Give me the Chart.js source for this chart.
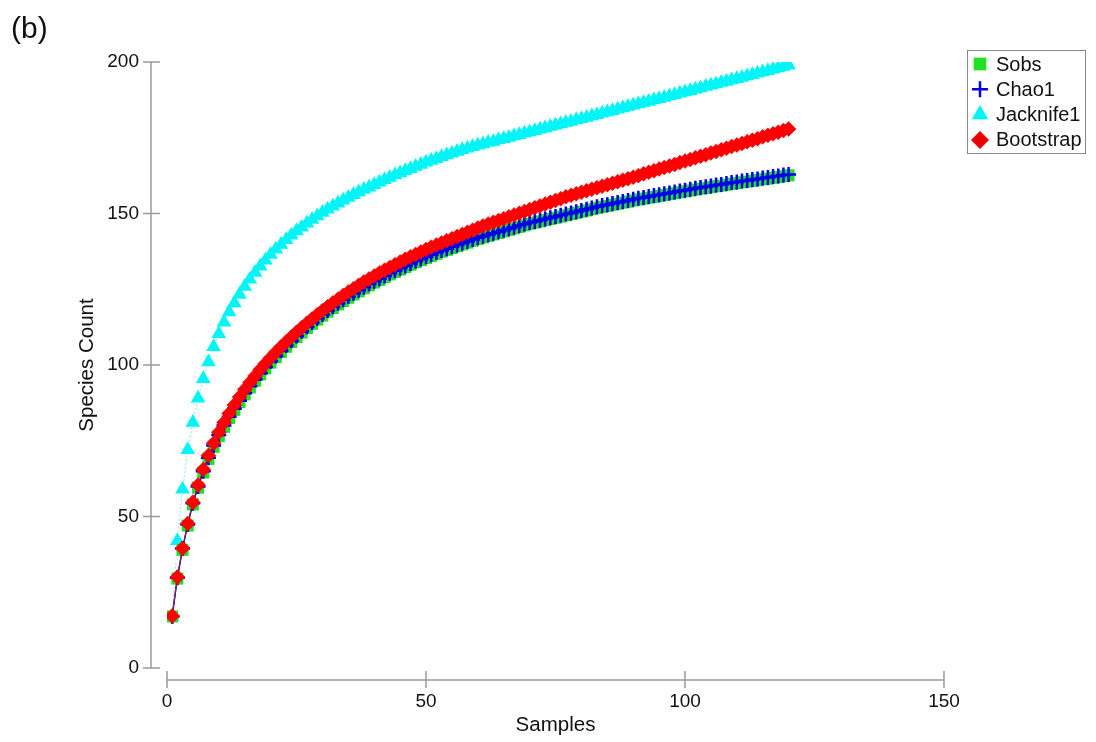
<!DOCTYPE html>
<html>
<head>
<meta charset="utf-8">
<script src="https://cdn.jsdelivr.net/npm/chart.js@4.4.1/dist/chart.umd.min.js"></script>
<style>
  body { margin: 0; background: #fff; }
  canvas { display: block; }
</style>
</head>
<body>
<canvas id="rarefaction" width="1096" height="742"></canvas>
<script>
// Sample index (x axis)
const samples = Array.from({ length: 120 }, (_, i) => i + 1);

const xTicks = [0, 50, 100, 150];
const yTicks = [0, 50, 100, 150, 200];

// Species richness estimates per sample count
const sobs = [
  17.0, 29.5, 39.0, 47.0, 54.0, 59.5, 64.5, 69.0, 73.0, 76.5,
  79.6, 82.5, 85.2, 87.8, 90.3, 92.6, 94.8, 96.9, 98.9, 100.8,
  102.6, 104.3, 106.0, 107.6, 109.2, 110.7, 112.2, 113.6, 115.0, 116.3,
  117.6, 118.8, 120.0, 121.1, 122.2, 123.3, 124.3, 125.3, 126.3, 127.2,
  128.1, 129.0, 129.9, 130.7, 131.5, 132.3, 133.1, 133.9, 134.6, 135.3,
  136.0, 136.7, 137.4, 138.0, 138.6, 139.2, 139.8, 140.4, 141.0, 141.6,
  142.1, 142.6, 143.1, 143.6, 144.1, 144.6, 145.1, 145.6, 146.1, 146.6,
  147.0, 147.4, 147.8, 148.2, 148.6, 149.0, 149.4, 149.8, 150.2, 150.6,
  151.0, 151.4, 151.8, 152.2, 152.5, 152.9, 153.2, 153.6, 153.9, 154.3,
  154.6, 154.9, 155.2, 155.5, 155.8, 156.1, 156.4, 156.7, 157.0, 157.3,
  157.6, 157.9, 158.2, 158.4, 158.7, 159.0, 159.2, 159.5, 159.8, 160.0,
  160.3, 160.5, 160.8, 161.0, 161.3, 161.5, 161.8, 162.0, 162.3, 162.6
];

const chao1 = [
  17.0, 29.8, 39.4, 47.4, 54.4, 59.9, 64.9, 69.4, 73.4, 76.9,
  80.0, 82.9, 85.6, 88.2, 90.7, 93.0, 95.2, 97.3, 99.3, 101.2,
  103.0, 104.7, 106.4, 108.0, 109.6, 111.1, 112.6, 114.0, 115.4, 116.7,
  118.0, 119.2, 120.4, 121.5, 122.6, 123.7, 124.7, 125.7, 126.7, 127.6,
  128.5, 129.4, 130.3, 131.1, 131.9, 132.7, 133.5, 134.3, 135.0, 135.7,
  136.4, 137.1, 137.8, 138.4, 139.0, 139.6, 140.2, 140.8, 141.4, 142.0,
  142.5, 143.0, 143.5, 144.0, 144.5, 145.0, 145.5, 146.0, 146.5, 147.0,
  147.4, 147.8, 148.2, 148.6, 149.0, 149.4, 149.8, 150.2, 150.6, 151.0,
  151.4, 151.8, 152.2, 152.6, 152.9, 153.3, 153.6, 154.0, 154.3, 154.7,
  155.0, 155.3, 155.6, 155.9, 156.2, 156.5, 156.8, 157.1, 157.4, 157.7,
  158.0, 158.3, 158.6, 158.8, 159.1, 159.4, 159.6, 159.9, 160.2, 160.4,
  160.7, 160.9, 161.2, 161.4, 161.7, 161.9, 162.2, 162.4, 162.7, 162.9
];

const jacknife1 = [
  17.0, 42.0, 59.0, 72.0, 81.0, 89.0, 95.5, 101.0, 106.0, 110.3,
  114.1, 117.5, 120.5, 123.3, 125.9, 128.3, 130.5, 132.6, 134.6, 136.5,
  138.2, 139.8, 141.3, 142.8, 144.2, 145.5, 146.8, 148.0, 149.2, 150.3,
  151.4, 152.4, 153.4, 154.4, 155.3, 156.2, 157.1, 157.9, 158.7, 159.5,
  160.3, 161.1, 161.9, 162.7, 163.4, 164.1, 164.8, 165.5, 166.2, 166.9,
  167.5, 168.1, 168.7, 169.3, 169.9, 170.5, 171.0, 171.5, 172.0, 172.5,
  172.9, 173.4, 173.8, 174.3, 174.7, 175.1, 175.6, 176.0, 176.5, 176.9,
  177.3, 177.8, 178.2, 178.7, 179.1, 179.5, 180.0, 180.4, 180.9, 181.3,
  181.7, 182.2, 182.6, 183.1, 183.5, 183.9, 184.4, 184.8, 185.3, 185.7,
  186.1, 186.6, 187.0, 187.5, 187.9, 188.3, 188.8, 189.2, 189.7, 190.1,
  190.5, 191.0, 191.4, 191.9, 192.3, 192.7, 193.2, 193.6, 194.1, 194.5,
  194.9, 195.4, 195.8, 196.3, 196.7, 197.1, 197.6, 198.0, 198.5, 198.9
];

const bootstrap = [
  17.2, 30.0, 39.5, 47.7, 54.7, 60.4, 65.5, 70.1, 74.2, 77.8,
  81.0, 84.0, 86.8, 89.4, 91.9, 94.2, 96.4, 98.5, 100.5, 102.4,
  104.2, 105.9, 107.6, 109.2, 110.8, 112.3, 113.8, 115.2, 116.6, 117.9,
  119.2, 120.5, 121.7, 122.9, 124.1, 125.2, 126.3, 127.4, 128.4, 129.4,
  130.4, 131.3, 132.2, 133.1, 134.0, 134.9, 135.7, 136.5, 137.3, 138.1,
  138.9, 139.6, 140.3, 141.0, 141.7, 142.4, 143.1, 143.8, 144.5, 145.2,
  145.9, 146.5, 147.1, 147.7, 148.3, 148.9, 149.5, 150.1, 150.7, 151.3,
  151.9, 152.5, 153.1, 153.7, 154.3, 154.9, 155.5, 156.0, 156.5, 157.0,
  157.5, 158.0, 158.5, 159.0, 159.5, 160.0, 160.5, 161.0, 161.5, 162.0,
  162.5, 163.1, 163.6, 164.1, 164.7, 165.2, 165.7, 166.2, 166.8, 167.3,
  167.8, 168.4, 168.9, 169.4, 170.0, 170.5, 171.0, 171.5, 172.1, 172.6,
  173.1, 173.7, 174.2, 174.7, 175.3, 175.8, 176.3, 176.8, 177.4, 177.9
];

const FONT = 'Arial, "Liberation Sans", sans-serif';
const AXIS_GRAY = '#9a9a9a';
const TEXT = '#111';

function toPoints(values) {
  return samples.map((s, i) => ({ x: s, y: values[i] }));
}

// Axis lines are drawn detached from the plot area, with ticks crossing them
const detachedAxes = {
  id: 'detachedAxes',
  beforeDatasetsDraw(chart) {
    const { ctx, scales: { x, y } } = chart;
    const axisX = chart.chartArea.left - 16;
    const axisY = chart.chartArea.bottom + 12;
    ctx.save();
    ctx.strokeStyle = AXIS_GRAY;
    ctx.lineWidth = 1.5;
    ctx.beginPath();
    ctx.moveTo(axisX, y.getPixelForValue(yTicks[yTicks.length - 1]));
    ctx.lineTo(axisX, y.getPixelForValue(yTicks[0]));
    yTicks.forEach(v => {
      const py = y.getPixelForValue(v);
      ctx.moveTo(axisX - 8, py);
      ctx.lineTo(axisX + 9, py);
    });
    ctx.moveTo(x.getPixelForValue(xTicks[0]), axisY);
    ctx.lineTo(x.getPixelForValue(xTicks[xTicks.length - 1]), axisY);
    xTicks.forEach(v => {
      const px = x.getPixelForValue(v);
      ctx.moveTo(px, axisY - 9);
      ctx.lineTo(px, axisY + 8);
    });
    ctx.stroke();
    ctx.restore();
  }
};

function drawMarker(ctx, style, color, cx, cy, r) {
  ctx.beginPath();
  if (style === 'rect') {
    const h = r * Math.SQRT1_2;
    ctx.rect(cx - h, cy - h, 2 * h, 2 * h);
    ctx.fillStyle = color;
    ctx.fill();
  } else if (style === 'cross') {
    ctx.moveTo(cx - r, cy);
    ctx.lineTo(cx + r, cy);
    ctx.moveTo(cx, cy - r);
    ctx.lineTo(cx, cy + r);
    ctx.strokeStyle = color;
    ctx.lineWidth = 2.5;
    ctx.stroke();
  } else if (style === 'triangle') {
    ctx.moveTo(cx, cy - r);
    ctx.lineTo(cx + r * 0.866, cy + r * 0.5);
    ctx.lineTo(cx - r * 0.866, cy + r * 0.5);
    ctx.closePath();
    ctx.fillStyle = color;
    ctx.fill();
  } else {
    ctx.moveTo(cx - r, cy);
    ctx.lineTo(cx, cy - r);
    ctx.lineTo(cx + r, cy);
    ctx.lineTo(cx, cy + r);
    ctx.closePath();
    ctx.fillStyle = color;
    ctx.fill();
  }
}

// Boxed legend in the upper right corner plus the panel letter
const boxLegend = {
  id: 'boxLegend',
  afterDraw(chart) {
    const ctx = chart.ctx;
    ctx.save();
    ctx.fillStyle = TEXT;
    ctx.font = '30px ' + FONT;
    ctx.textBaseline = 'middle';
    ctx.fillText('(b)', 11, 30);

    ctx.strokeStyle = '#888';
    ctx.lineWidth = 1;
    ctx.strokeRect(967.5, 50.5, 118, 103);

    ctx.font = '20px ' + FONT;
    chart.data.datasets.forEach((ds, i) => {
      const cy = 64 + i * 25.3;
      drawMarker(ctx, ds.pointStyle, ds.legendColor, 980, cy, ds.legendRadius);
      ctx.fillStyle = TEXT;
      ctx.textBaseline = 'middle';
      ctx.textAlign = 'left';
      ctx.fillText(ds.label, 996, cy + 1);
    });
    ctx.restore();
  }
};

const ctx = document.getElementById('rarefaction').getContext('2d');

new Chart(ctx, {
  type: 'line',
  data: {
    datasets: [
      {
        label: 'Sobs',
        data: toPoints(sobs),
        order: 3,
        borderColor: '#22dd22',
        borderWidth: 1,
        pointStyle: 'rect',
        pointRadius: 8.5,
        pointBackgroundColor: '#22e022',
        pointBorderColor: '#22e022',
        pointBorderWidth: 0,
        legendColor: '#22e022',
        legendRadius: 9
      },
      {
        label: 'Chao1',
        data: toPoints(chao1),
        order: 2,
        borderColor: '#0000ee',
        borderWidth: 1.5,
        pointStyle: 'cross',
        pointRadius: 7.5,
        pointBorderColor: '#0000ee',
        pointBorderWidth: 2.5,
        legendColor: '#0000ee',
        legendRadius: 8
      },
      {
        label: 'Jacknife1',
        data: toPoints(jacknife1),
        order: 4,
        borderColor: '#7fecf4',
        borderWidth: 1,
        borderDash: [2, 2],
        pointStyle: 'triangle',
        pointRadius: 8.5,
        pointBackgroundColor: '#00f6f6',
        pointBorderColor: '#00f6f6',
        pointBorderWidth: 0,
        legendColor: '#00f6f6',
        legendRadius: 9.5
      },
      {
        label: 'Bootstrap',
        data: toPoints(bootstrap),
        order: 1,
        borderColor: '#b02020',
        borderWidth: 1,
        pointStyle: 'rectRot',
        pointRadius: 7.5,
        pointBackgroundColor: '#ff0000',
        pointBorderColor: '#ee0000',
        pointBorderWidth: 0.5,
        legendColor: '#ee0000',
        legendRadius: 9
      }
    ]
  },
  options: {
    responsive: false,
    animation: false,
    layout: { padding: { top: 62, right: 152, left: 0, bottom: 0 } },
    plugins: {
      legend: { display: false },
      tooltip: { enabled: false }
    },
    scales: {
      x: {
        type: 'linear',
        min: 0,
        max: 150,
        grid: { display: false, drawTicks: false },
        border: { display: false },
        afterBuildTicks: scale => { scale.ticks = xTicks.map(v => ({ value: v })); },
        afterFit: scale => { scale.height = 74; },
        ticks: {
          padding: 22,
          color: TEXT,
          font: { family: FONT, size: 19 },
          maxRotation: 0
        },
        title: {
          display: true,
          text: 'Samples',
          color: TEXT,
          font: { family: FONT, size: 20.5 },
          padding: { top: 0, bottom: 4 }
        }
      },
      y: {
        type: 'linear',
        min: 0,
        max: 200,
        grid: { display: false, drawTicks: false },
        border: { display: false },
        afterBuildTicks: scale => { scale.ticks = yTicks.map(v => ({ value: v })); },
        afterFit: scale => { scale.width = 167; },
        ticks: {
          padding: 28,
          color: TEXT,
          font: { family: FONT, size: 19 }
        },
        title: {
          display: true,
          text: 'Species Count',
          color: TEXT,
          font: { family: FONT, size: 20.5 },
          padding: { top: 75, bottom: 0 }
        }
      }
    }
  },
  plugins: [detachedAxes, boxLegend]
});
</script>
</body>
</html>
